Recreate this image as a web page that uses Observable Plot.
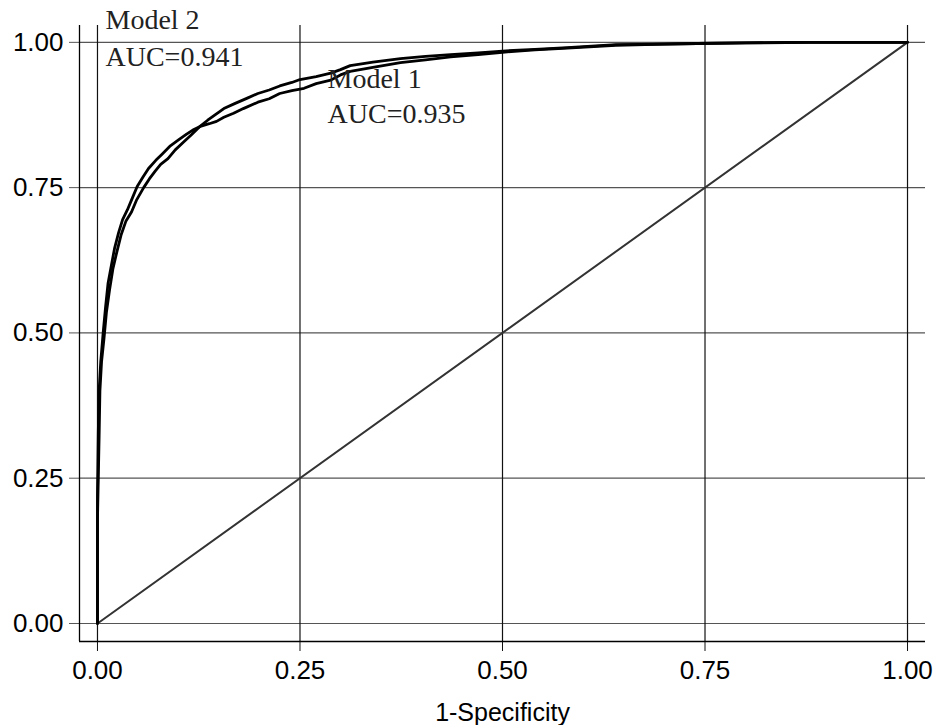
<!DOCTYPE html>
<html>
<head>
<meta charset="utf-8">
<script src="https://cdn.jsdelivr.net/npm/d3@7"></script>
<script src="https://cdn.jsdelivr.net/npm/@observablehq/plot@0.6"></script>
<style>
  html, body { margin: 0; padding: 0; background: #fff; }
</style>
</head>
<body>
<div id="chart"></div>
<script>
const ticks = [0, 0.25, 0.5, 0.75, 1];
const tickLabels = ["0.00", "0.25", "0.50", "0.75", "1.00"];
const xTitle = "1-Specificity";

const model1Fpr = [0,0.000,0.001,0.002,0.004,0.007,0.010,0.013,0.017,0.021,0.026,0.031,0.037,0.043,0.049,0.056,0.063,0.072,0.080,0.090,0.100,0.110,0.119,0.128,0.138,0.147,0.156,0.168,0.180,0.198,0.212,0.225,0.240,0.255,0.270,0.288,0.300,0.312,0.340,0.374,0.405,0.436,0.470,0.500,0.540,0.580,0.640,0.700,0.740,0.800,0.880,1];
const model1Tpr = [0,0.22,0.33,0.40,0.45,0.50,0.545,0.585,0.615,0.645,0.672,0.695,0.712,0.732,0.752,0.768,0.783,0.797,0.808,0.822,0.832,0.842,0.850,0.856,0.860,0.864,0.871,0.878,0.886,0.897,0.903,0.912,0.917,0.921,0.929,0.935,0.944,0.950,0.957,0.965,0.970,0.975,0.979,0.983,0.987,0.990,0.995,0.997,0.998,0.999,1,1];

const model2Fpr = [0,0.000,0.002,0.003,0.005,0.008,0.011,0.015,0.019,0.024,0.029,0.035,0.042,0.048,0.057,0.064,0.071,0.078,0.087,0.096,0.106,0.116,0.127,0.136,0.146,0.156,0.170,0.185,0.198,0.212,0.225,0.240,0.250,0.270,0.288,0.300,0.312,0.340,0.374,0.405,0.436,0.470,0.500,0.540,0.580,0.640,0.700,0.740,0.850,1];
const model2Tpr = [0,0.18,0.32,0.40,0.45,0.49,0.535,0.575,0.61,0.64,0.668,0.692,0.708,0.728,0.75,0.765,0.778,0.790,0.800,0.815,0.828,0.841,0.856,0.866,0.876,0.886,0.895,0.904,0.912,0.918,0.925,0.931,0.936,0.941,0.947,0.953,0.960,0.966,0.972,0.976,0.979,0.982,0.985,0.988,0.991,0.996,0.997,0.998,1,1];

const model1Label = "Model 1\nAUC=0.935";
const model2Label = "Model 2\nAUC=0.941";
const reference = [0, 1];

const m1 = model1Fpr.map((f, i) => ({fpr: f, tpr: model1Tpr[i]}));
const m2 = model2Fpr.map((f, i) => ({fpr: f, tpr: model2Tpr[i]}));
const diag = reference.map(v => ({fpr: v, tpr: v}));

const xLo = -0.0222, xHi = 1.0222;
const yLo = -0.031, yHi = 1.029;

const chart = Plot.plot({
  width: 936,
  height: 725,
  marginLeft: 79,
  marginRight: 11,
  marginTop: 25,
  marginBottom: 84,
  style: {fontFamily: "'Liberation Sans', Arial, sans-serif", fontSize: "26px", color: "#000", background: "#fff"},
  x: {domain: [xLo, xHi]},
  y: {domain: [yLo, yHi]},
  marks: [
    Plot.ruleY(ticks, {x1: xLo, x2: xHi, stroke: "#555", strokeWidth: 1.2}),
    Plot.ruleX(ticks, {y1: yLo, y2: yHi, stroke: "#111", strokeWidth: 1.2}),
    Plot.axisY(ticks, {tickFormat: (d, i) => tickLabels[i], tickSize: 10, tickPadding: 6, stroke: "#555", fontSize: 26, label: null}),
    Plot.axisX(ticks, {tickFormat: (d, i) => tickLabels[i], tickSize: 10, tickPadding: 9, stroke: "#111", fontSize: 26, label: null}),
    Plot.ruleX([xLo], {y1: yLo, y2: yHi, stroke: "#000", strokeWidth: 1.3}),
    Plot.ruleY([yLo], {x1: xLo, x2: xHi, stroke: "#000", strokeWidth: 1.3}),
    Plot.line(diag, {x: "fpr", y: "tpr", stroke: "#333", strokeWidth: 2}),
    Plot.line(m1, {x: "fpr", y: "tpr", stroke: "#000", strokeWidth: 2.8}),
    Plot.line(m2, {x: "fpr", y: "tpr", stroke: "#000", strokeWidth: 2.8}),
    Plot.text([model2Label], {x: 0.0099, y: 0.960, text: d => d, textAnchor: "start", lineAnchor: "bottom", lineHeight: 1.32, fontFamily: "'Liberation Serif', 'Times New Roman', serif", fontSize: 28, fill: "#222"}),
    Plot.text([model1Label], {x: 0.284, y: 0.862, text: d => d, textAnchor: "start", lineAnchor: "bottom", lineHeight: 1.25, fontFamily: "'Liberation Serif', 'Times New Roman', serif", fontSize: 28, fill: "#222"}),
    Plot.text([xTitle], {x: (xLo + xHi) / 2, frameAnchor: "bottom", dy: 79, text: d => d, fontSize: 25, fill: "#000", lineAnchor: "bottom"})
  ]
});
document.getElementById("chart").appendChild(chart);
</script>
</body>
</html>
